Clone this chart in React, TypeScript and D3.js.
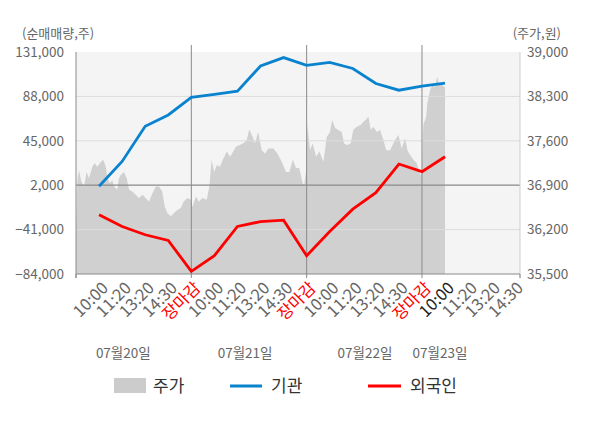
import React from "react";
import * as d3 from "d3";

const categories = [
  "10:00", "11:20", "13:20", "14:30", "장마감",
  "10:00", "11:20", "13:20", "14:30", "장마감",
  "10:00", "11:20", "13:20", "14:30", "장마감",
  "10:00", "11:20", "13:20", "14:30",
];
const dateLabels = ["07월20일", "07월21일", "07월22일", "07월23일"];
const dateLabelSlots = [1.05, 6.33, 11.53, 14.78];

const institution = [
  1000, 25000, 59000, 70000, 87000, 90000, 93000, 117500, 125600, 118000,
  121000, 115000, 100500, 94000, 97900, 100800,
];
const foreign = [
  -26700, -38000, -46000, -51500, -81500, -66300, -38000, -33200, -31850,
  -66300, -42900, -21200, -5200, 22500, 15100, 29600,
];

const leftTicks = [131000, 88000, 45000, 2000, -41000, -84000];
const rightTicks = [39000, 38300, 37600, 36900, 36200, 35500];

const priceSlots = [
  -1.0, -0.94, -0.87, -0.77, -0.65, -0.54, -0.44, -0.29, -0.19, -0.08, 0.04,
  0.18, 0.29, 0.36, 0.47, 0.57, 0.65, 0.79, 0.86, 0.94, 1.08, 1.2, 1.3, 1.44,
  1.59, 1.73, 1.88, 2.02, 2.17, 2.31, 2.46, 2.6, 2.74, 2.85, 2.96, 3.11, 3.25,
  3.39, 3.54, 3.66, 3.83, 3.98, 4.05, 4.2, 4.33, 4.48, 4.67, 4.78, 4.88, 4.99,
  5.11, 5.24, 5.39, 5.54, 5.68, 5.82, 5.94, 6.08, 6.25, 6.4, 6.51, 6.66, 6.76,
  6.9, 7.05, 7.2, 7.34, 7.56, 7.73, 7.92, 8.11, 8.25, 8.4, 8.54, 8.68, 8.83,
  8.89, 8.98, 9.03, 9.15, 9.26, 9.41, 9.55, 9.73, 9.87, 10.01, 10.11, 10.23,
  10.37, 10.52, 10.62, 10.76, 10.91, 11.02, 11.17, 11.34, 11.46, 11.57, 11.68,
  11.78, 11.89, 12.04, 12.18, 12.33, 12.45, 12.62, 12.76, 12.88, 12.98, 13.12,
  13.27, 13.37, 13.48, 13.63, 13.77, 13.92, 13.99, 14.06, 14.18, 14.23, 14.35,
  14.46, 14.56, 14.66, 14.75, 14.85, 14.96, 15.0,
];
const priceValues = [
  36150, 36980, 37140, 36960, 36880, 37110, 37010, 37190, 37250, 37190, 37250,
  37300, 37190, 37010, 36930, 36980, 36880, 36830, 37010, 37060, 37110, 37010,
  36830, 36800, 36750, 36700, 36750, 36700, 36640, 36770, 36880, 36880, 36800,
  36560, 36460, 36410, 36460, 36510, 36540, 36640, 36700, 36670, 36560, 36720,
  36640, 36700, 36670, 36880, 37300, 37110, 37220, 37190, 37320, 37430, 37350,
  37430, 37510, 37530, 37560, 37610, 37780, 37660, 37560, 37740, 37450, 37400,
  37480, 37480, 37400, 37270, 37110, 37110, 37300, 37170, 37170, 36930, 36900,
  37140, 37850, 37450, 37560, 37350, 37430, 37270, 37660, 37740, 37930, 37800,
  37770, 37740, 37560, 37530, 37560, 37770, 37820, 37850, 37900, 37930, 37980,
  37770, 37820, 37740, 37770, 37610, 37450, 37450, 37560, 37640, 37690, 37480,
  37640, 37450, 37380, 37300, 37250, 37060, 37090, 37850, 37980, 38190, 38400,
  38480, 38450, 38610, 38480, 38500, 38450, 38450,
];

const W = 600;
const H = 428;
const L = 76;
const R = 520;
const T = 52;
const B = 274;
const FONT = "'Noto Sans CJK KR', 'Noto Sans', sans-serif";

export default function App() {
  const x = d3.scaleLinear().domain([-1, 18.25]).range([L, R]);
  const yL = d3.scaleLinear().domain([-84000, 131000]).range([B, T]);
  const yR = d3.scaleLinear().domain([35500, 39000]).range([B, T]);

  const priceData = priceSlots.map((s, i) => [s, priceValues[i]] as [number, number]);
  const area = d3
    .area<[number, number]>()
    .x((d) => x(d[0]))
    .y0(B)
    .y1((d) => yR(d[1]))(priceData) as string;

  const line = d3
    .line<number>()
    .x((_, i) => x(i))
    .y((d) => yL(d));

  const dayLines = [4, 9, 14];
  const axisTicks = [-1, 4, 9, 14, 18.25];

  return (
    <svg
      width={W}
      height={H}
      style={{ position: "absolute", left: 0, top: 0, background: "#fff" }}
      fontFamily={FONT}
    >
      <rect x={L} y={T} width={R - L} height={B - T} fill="#f4f4f4" />
      <path d={area} fill="#d0d0d0" />
      {leftTicks.slice(1, -1).map((t) => (
        <line
          key={t}
          x1={L}
          x2={R}
          y1={yL(t)}
          y2={yL(t)}
          stroke={t === 2000 ? "#8a8a8a" : "#dcdcdc"}
          strokeWidth={t === 2000 ? 1.2 : 1}
        />
      ))}
      {dayLines.map((s) => (
        <line key={s} x1={x(s)} x2={x(s)} y1={T - 7} y2={B} stroke="#8a8a8a" strokeWidth={1} />
      ))}
      <line x1={L} x2={L} y1={T} y2={B + 4} stroke="#8a8a8a" />
      <line x1={R} x2={R} y1={T} y2={B + 4} stroke="#cfcfcf" />
      <line x1={L} x2={R} y1={B} y2={B} stroke="#8a8a8a" />
      {axisTicks.map((s) => (
        <line key={s} x1={x(s)} x2={x(s)} y1={B} y2={B + 4} stroke="#8a8a8a" />
      ))}
      <path d={line(institution) as string} fill="none" stroke="#0a83cf" strokeWidth={2.8} />
      <path d={line(foreign) as string} fill="none" stroke="#ff0000" strokeWidth={2.8} />

      {leftTicks.map((t) => (
        <text
          key={t}
          x={64}
          y={yL(t)}
          dy="0.35em"
          textAnchor="end"
          fontSize={13.5}
          fill="#666"
        >
          {d3.format(",")(t)}
        </text>
      ))}
      {rightTicks.map((t) => (
        <text key={t} x={527} y={yR(t)} dy="0.35em" fontSize={13.5} fill="#666">
          {d3.format(",")(t)}
        </text>
      ))}
      <text x={22} y={33} dy="0.35em" fontSize={13} fill="#666">
        (순매매량,주)
      </text>
      <text x={561} y={33} dy="0.35em" textAnchor="end" fontSize={13} fill="#666">
        (주가,원)
      </text>

      {categories.map((c, i) => (
        <text
          key={i}
          transform={`translate(${x(i) + 6},${B + 11}) rotate(-45)`}
          textAnchor="end"
          dy="0.35em"
          fontSize={16.5}
          fill={c === "장마감" ? "#ff0000" : i === 15 ? "#222" : "#666"}
        >
          {c}
        </text>
      ))}
      {dateLabels.map((d, i) => (
        <text
          key={d}
          x={x(dateLabelSlots[i])}
          y={353}
          dy="0.35em"
          textAnchor="middle"
          fontSize={13.5}
          fill="#666"
        >
          {d}
        </text>
      ))}

      <rect x={114} y={378} width={32} height={15} fill="#cccccc" />
      <text x={153} y={386} dy="0.35em" fontSize={17} fill="#333">
        주가
      </text>
      <line x1={230} x2={262} y1={386} y2={386} stroke="#0a83cf" strokeWidth={3} />
      <text x={271} y={386} dy="0.35em" fontSize={17} fill="#333">
        기관
      </text>
      <line x1={368} x2={401} y1={386} y2={386} stroke="#ff0000" strokeWidth={3} />
      <text x={410} y={386} dy="0.35em" fontSize={17} fill="#333">
        외국인
      </text>
    </svg>
  );
}
